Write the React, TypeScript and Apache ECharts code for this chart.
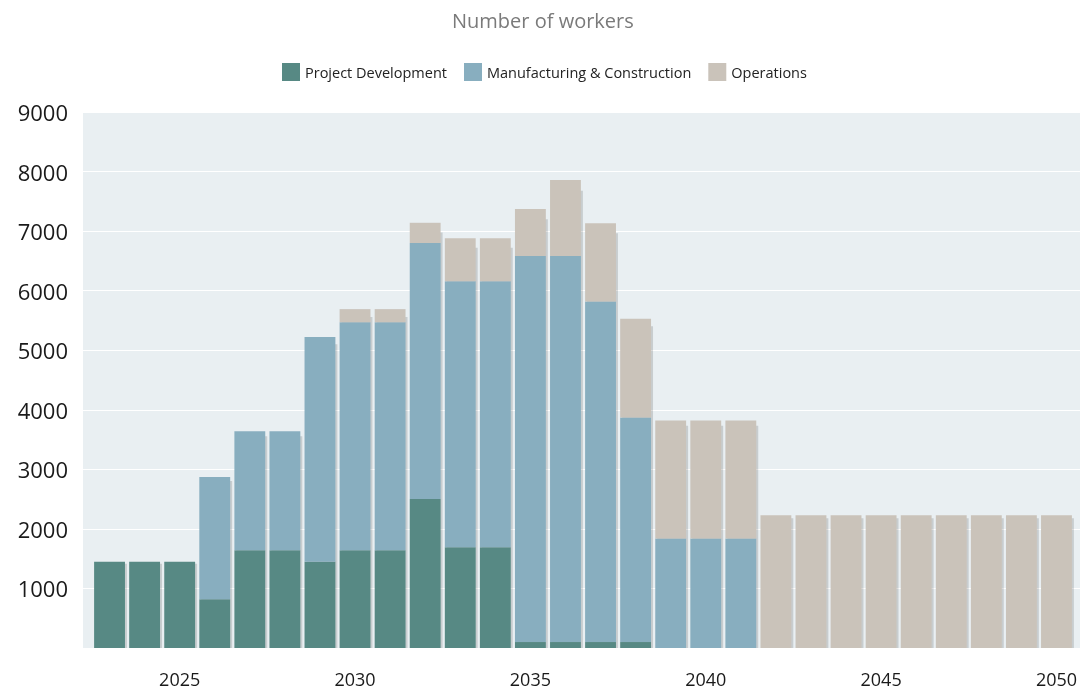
import React, { useEffect, useRef } from "react";
import * as echarts from "echarts";

const years = [
  "2023", "2024", "2025", "2026", "2027", "2028", "2029", "2030", "2031", "2032",
  "2033", "2034", "2035", "2036", "2037", "2038", "2039", "2040", "2041", "2042",
  "2043", "2044", "2045", "2046", "2047", "2048", "2049", "2050",
];

const projectDevelopment = [
  1450, 1450, 1450, 820, 1640, 1640, 1450, 1640, 1640, 2500,
  1690, 1690, 100, 100, 100, 100, 0, 0, 0, 0,
  0, 0, 0, 0, 0, 0, 0, 0,
];

const manufacturingConstruction = [
  0, 0, 0, 2050, 2000, 2000, 3770, 3830, 3830, 4300,
  4470, 4470, 6480, 6480, 5720, 3770, 1840, 1840, 1840, 0,
  0, 0, 0, 0, 0, 0, 0, 0,
];

const operations = [
  0, 0, 0, 0, 0, 0, 0, 220, 220, 340,
  720, 720, 790, 1280, 1310, 1660, 1980, 1980, 1980, 2230,
  2230, 2230, 2230, 2230, 2230, 2230, 2230, 2230,
];

const yTicks = { min: 0, max: 9000, interval: 1000 };

const seriesNames = ["Project Development", "Manufacturing & Construction", "Operations"];
const colors = ["#578984", "#88aebf", "#cac3ba"];

export default function App() {
  const ref = useRef<HTMLDivElement>(null);

  useEffect(() => {
    if (!ref.current) return;
    const chart = echarts.init(ref.current, undefined, { renderer: "svg" });

    const totals = years.map(
      (_, i) => projectDevelopment[i] + manufacturingConstruction[i] + operations[i]
    );

    const barWidthRatio = 0.88;

    chart.setOption({
      animation: false,
      textStyle: { fontFamily: "Open Sans" },
      title: {
        text: "Number of workers",
        left: 447,
        top: 5,
        textStyle: { fontSize: 20, fontWeight: "normal", color: "#7a7a7a", fontFamily: "Open Sans" },
      },
      legend: {
        data: seriesNames,
        left: 277,
        top: 58,
        icon: "rect",
        itemWidth: 18,
        itemHeight: 18,
        itemGap: 17,
        textStyle: { fontSize: 14.5, color: "#222", fontFamily: "Open Sans" },
      },
      grid: [
        {
          left: 83,
          top: 112,
          width: 997,
          height: 536,
          show: true,
          backgroundColor: "#e9eff2",
          borderWidth: 0,
          borderColor: "transparent",
        },
        { left: 92, top: 112, width: 985, height: 536 },
      ],
      xAxis: [
        { gridIndex: 0, type: "value", min: 0, max: 1, show: false },
        {
          gridIndex: 1,
          type: "category",
          data: years,
          axisLine: { show: false },
          axisTick: { show: false },
          axisLabel: {
            interval: (_idx: number, val: string) => Number(val) % 5 === 0,
            fontSize: 18,
            color: "#1a1a1a",
            margin: 22,
            fontFamily: "Open Sans",
          },
        },
      ],
      yAxis: [
        {
          gridIndex: 0,
          type: "value",
          min: yTicks.min,
          max: yTicks.max,
          interval: yTicks.interval,
          axisLine: { show: false },
          axisTick: { show: false },
          splitLine: { show: true, lineStyle: { color: "#ffffff", width: 1 } },
          axisLabel: {
            showMinLabel: false,
            formatter: (v: number) => String(v),
            fontSize: 22,
            color: "#1a1a1a",
            margin: 15,
            fontFamily: "Open Sans",
          },
        },
        {
          gridIndex: 1,
          type: "value",
          min: yTicks.min,
          max: yTicks.max,
          show: false,
          splitLine: { show: false },
        },
      ],
      series: [
        {
          name: "shadow",
          type: "custom",
          xAxisIndex: 1,
          yAxisIndex: 1,
          z: 1,
          silent: true,
          encode: { x: 0, y: 1 },
          data: totals.map((t, i) => [i, t]),
          renderItem: (_params: any, api: any) => {
            const i = api.value(0);
            const v = api.value(1);
            const top = api.coord([i, v * 0.977]);
            const base = api.coord([i, 0]);
            const band = api.size([1, 0])[0];
            const w = band * barWidthRatio;
            return {
              type: "rect",
              shape: { x: top[0] - w / 2 + 2, y: top[1], width: w, height: base[1] - top[1] },
              style: { fill: "rgba(0,0,0,0.14)" },
            };
          },
        },
        {
          name: seriesNames[0],
          type: "bar",
          stack: "total",
          xAxisIndex: 1,
          yAxisIndex: 1,
          barWidth: "88%",
          z: 2,
          itemStyle: { color: colors[0] },
          data: projectDevelopment,
        },
        {
          name: seriesNames[1],
          type: "bar",
          stack: "total",
          xAxisIndex: 1,
          yAxisIndex: 1,
          barWidth: "88%",
          z: 2,
          itemStyle: { color: colors[1] },
          data: manufacturingConstruction,
        },
        {
          name: seriesNames[2],
          type: "bar",
          stack: "total",
          xAxisIndex: 1,
          yAxisIndex: 1,
          barWidth: "88%",
          z: 2,
          itemStyle: { color: colors[2] },
          data: operations,
        },
      ],
    });

    return () => chart.dispose();
  }, []);

  return (
    <div
      ref={ref}
      style={{ position: "fixed", left: 0, top: 0, width: 1080, height: 691 }}
    />
  );
}
